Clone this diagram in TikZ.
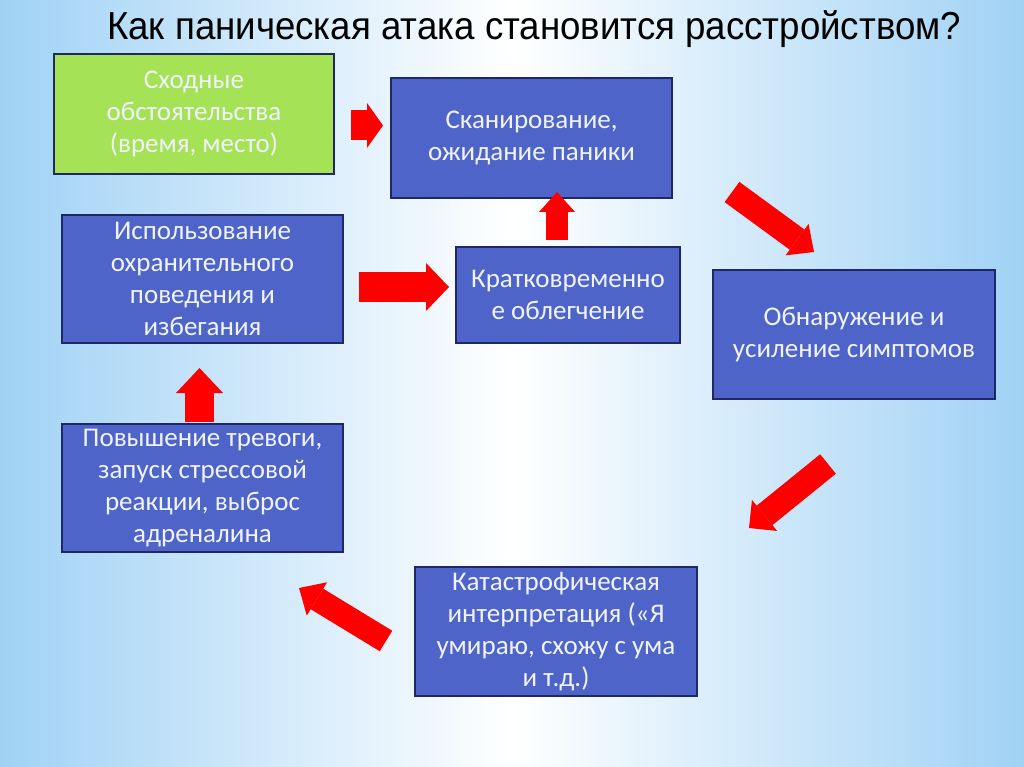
\documentclass[tikz,border=0pt]{standalone}
\usepackage{fontspec}
\setmainfont{Carlito}
\newfontfamily\titlefont{Liberation Sans}[FakeStretch=0.94]
\usetikzlibrary{arrows.meta,calc}
\definecolor{boxblue}{RGB}{78,100,200}
\definecolor{boxline}{RGB}{30,40,100}
\definecolor{boxgreen}{RGB}{166,226,86}
\definecolor{bgblue}{RGB}{160,210,245}
\definecolor{arrred}{RGB}{255,0,0}
\definecolor{boxtext}{RGB}{240,244,250}
\tikzset{
  box/.style={draw=boxline, line width=1.3pt, fill=boxblue, text=boxtext,
    align=center, inner sep=0pt, font=\fontsize{27}{32}\selectfont},
  greenbox/.style={box, fill=boxgreen},
  blockarrow/.style n args={3}{draw=arrred, line width=#1, line cap=butt,
    -{Triangle[width=#2, length=#3, line width=0pt, fill=arrred]}},
}
\begin{document}
\begin{tikzpicture}[x=1pt,y=-1pt]
\useasboundingbox (0,0) rectangle (1024,767);
\shade[left color=bgblue, right color=bgblue, middle color=white] (0,0) rectangle (1024,767);
\node[anchor=base west, inner sep=0pt, font=\titlefont\fontsize{39}{40}\selectfont] (title) at (107,40) {Как паническая атака становится расстройством?};
% boxes
\node[greenbox, minimum width=280pt, minimum height=120pt] (same) at (194,114) {Сходные\\обстоятельства\\(время, место)};
\node[box, minimum width=281pt, minimum height=120pt] (scan) at (531.5,138) {Сканирование,\\ожидание паники};
\node[box, minimum width=281pt, minimum height=128pt] (use) at (202.5,279) {Использование\\охранительного\\поведения и\\избегания};
\node[box, minimum width=224pt, minimum height=96pt] (short) at (568,295) {Кратковременно\\е облегчение};
\node[box, minimum width=282pt, minimum height=129pt] (detect) at (854,334.5) {Обнаружение и\\усиление симптомов};
\node[box, minimum width=281pt, minimum height=128pt] (anx) at (202.5,488) {Повышение тревоги,\\запуск стрессовой\\реакции, выброс\\адреналина};
\node[box, minimum width=282pt, minimum height=129pt] (cat) at (556,631.5) {Катастрофическая\\интерпретация («Я\\умираю, схожу с ума\\и т.д.)};
% arrow end points
\coordinate (a1s) at (351,125.5); \coordinate (a1e) at (383,125.5);
\coordinate (a2s) at (557,240); \coordinate (a2e) at (557,192);
\coordinate (a3s) at (359,287); \coordinate (a3e) at (449,287);
\coordinate (a4s) at (732,192); \coordinate (a4e) at (814,252);
\coordinate (a5s) at (828,464); \coordinate (a5e) at (749,528);
\coordinate (a6s) at (386,641); \coordinate (a6e) at (299,588);
\coordinate (a7s) at (199.5,422); \coordinate (a7e) at (199.5,368);
\draw[blockarrow={30pt}{45pt}{16pt}] (a1s) -- (a1e);
\draw[blockarrow={22pt}{36pt}{20pt}] (a2s) -- (a2e);
\draw[blockarrow={30pt}{48pt}{23pt}] (a3s) -- (a3e);
\draw[blockarrow={25pt}{39pt}{21pt}] (a4s) -- (a4e);
\draw[blockarrow={25pt}{40pt}{20pt}] (a5s) -- (a5e);
\draw[blockarrow={24pt}{39pt}{21pt}] (a6s) -- (a6e);
\draw[blockarrow={29pt}{47pt}{25pt}] (a7s) -- (a7e);
\end{tikzpicture}
\end{document}
